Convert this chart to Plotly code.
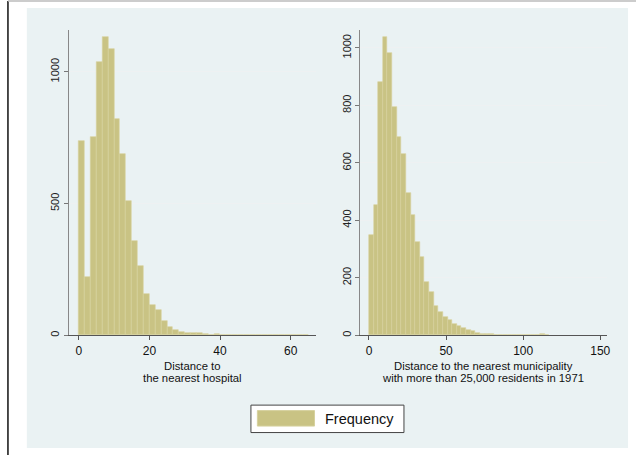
import numpy as np
import plotly.graph_objects as go

# ---- data ----
hosp_bin_start = 0.0
hosp_bin_width = 65.0 / 39
hosp_counts = [737, 222, 751, 1039, 1131, 1085, 822, 689, 511, 357, 263, 157, 115, 96,
               54, 32, 22, 13, 10, 9, 8, 6, 3, 4, 2, 3, 2, 3, 1, 2, 1, 0, 1, 0, 0, 0, 0, 1, 2]

muni_bin_start = 0.0
muni_bin_width = 3.0
muni_counts = [348, 455, 881, 1037, 983, 794, 691, 631, 495, 418, 325, 273, 187, 152,
               102, 81, 63, 52, 39, 31, 24, 20, 15, 9, 6, 4, 3, 2, 2, 1, 1, 0, 1, 0, 0, 0, 0, 3, 1]

hosp_xticks = [0, 20, 40, 60]
hosp_yticks = [0, 500, 1000]
muni_xticks = [0, 50, 100, 150]
muni_yticks = [0, 200, 400, 600, 800, 1000]

hosp_title = ["Distance to", "the nearest hospital"]
muni_title = ["Distance to the nearest municipality", "with more than 25,000 residents in 1971"]
legend_label = "Frequency"

# ---- style ----
W, H = 640, 456
FONT = "Liberation Sans, Arial, sans-serif"
BAR = "#C9C384"
BAR_EDGE = "#D6D19E"
BG = "#EAF2F3"

def px(x):
    return x / W

def py(y):
    return 1 - y / H

def centers(start, width, counts):
    return start + width * (np.arange(len(counts)) + 0.5)

fig = go.Figure()
fig.add_trace(go.Bar(
    x=centers(hosp_bin_start, hosp_bin_width, hosp_counts), y=hosp_counts,
    width=hosp_bin_width, marker=dict(color=BAR, line=dict(color=BAR_EDGE, width=0.6)),
    xaxis="x", yaxis="y", showlegend=False, name=legend_label))
fig.add_trace(go.Bar(
    x=centers(muni_bin_start, muni_bin_width, muni_counts), y=muni_counts,
    width=muni_bin_width, marker=dict(color=BAR, line=dict(color=BAR_EDGE, width=0.6)),
    xaxis="x2", yaxis="y2", showlegend=False, name=legend_label))

yb, yt = py(336), py(30)
common_x = dict(showline=True, linecolor="#555555", linewidth=1, ticks="outside",
                ticklen=4, tickcolor="#555555", showgrid=False, zeroline=False,
                tickfont=dict(family=FONT, size=12, color="#111111"))
common_y = dict(showline=True, linecolor="#888888", linewidth=1, ticks="outside",
                ticklen=4, tickcolor="#777777", showgrid=True, gridcolor="#EEF1F2",
                gridwidth=1, zeroline=False, tickangle=-90,
                tickfont=dict(family=FONT, size=11, color="#222222"))

L_X0, L_X1 = 69, 317.7
R_X0, R_X1 = 362.3, 610.7

fig.update_layout(
    width=W, height=H, margin=dict(l=0, r=0, t=0, b=0),
    paper_bgcolor="white", plot_bgcolor="white", bargap=0, barmode="overlay",
    xaxis=dict(domain=[px(L_X0), px(L_X1)], range=[-2.9, 67.1], tickvals=hosp_xticks,
               anchor="y", **common_x),
    yaxis=dict(domain=[yb, yt], range=[0, 1159], tickvals=hosp_yticks, anchor="x", **common_y),
    xaxis2=dict(domain=[px(R_X0), px(R_X1)], range=[-5.8, 154.3], tickvals=muni_xticks,
                anchor="y2", **common_x),
    yaxis2=dict(domain=[yb, yt], range=[0, 1062.5], tickvals=muni_yticks, anchor="x2", **common_y),
    showlegend=False,
)

shapes = [
    dict(type="rect", xref="paper", yref="paper", x0=px(27), x1=px(632), y0=py(449), y1=py(8),
         fillcolor=BG, line=dict(width=0), layer="below"),
    dict(type="line", xref="paper", yref="paper", x0=px(8), x1=px(8), y0=0, y1=py(1),
         line=dict(color="#111111", width=1.5)),
    dict(type="line", xref="paper", yref="paper", x0=px(8), x1=1, y0=py(1), y1=py(1),
         line=dict(color="#BBBBBB", width=1.5)),
    dict(type="rect", xref="paper", yref="paper", x0=px(252.5), x1=px(406.5), y0=py(433.5), y1=py(406),
         fillcolor="white", line=dict(color="#444444", width=1)),
    dict(type="rect", xref="paper", yref="paper", x0=px(259), x1=px(316.5), y0=py(427), y1=py(411.5),
         fillcolor=BAR, line=dict(color=BAR_EDGE, width=1)),
]
fig.update_layout(shapes=shapes)

for (x0, x1), lines in (((L_X0, L_X1), hosp_title), ((R_X0, R_X1), muni_title)):
    for i, line in enumerate(lines):
        fig.add_annotation(x=px((x0 + x1) / 2), y=py(366.5 + 12.6 * i), xref="paper", yref="paper",
                           text=line, showarrow=False, xanchor="center", yanchor="middle",
                           font=dict(family=FONT, size=11.3, color="#111111"))

fig.add_annotation(x=px(325), y=py(419.5), xref="paper", yref="paper", text=legend_label,
                   showarrow=False, xanchor="left", yanchor="middle",
                   font=dict(family=FONT, size=14.5, color="#111111"))

fig.write_html("out.html", config={"displayModeBar": False},
               post_script="document.body.style.margin='0px';document.body.style.overflow='hidden';")
